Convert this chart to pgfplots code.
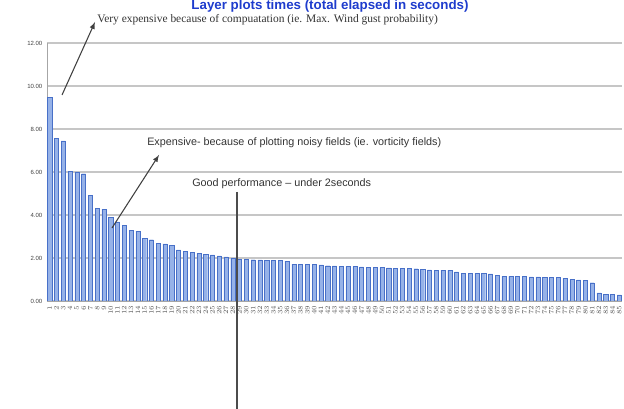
\documentclass[border=0pt]{standalone}
\usepackage{fontspec}
\setmainfont{Liberation Sans}
\newfontfamily\seriffont{Liberation Serif}
\usepackage{pgfplots}
\pgfplotsset{compat=1.18}
\definecolor{barfill}{RGB}{150,178,232}
\definecolor{baredge}{RGB}{72,112,200}
\definecolor{titleblue}{RGB}{30,60,205}
\begin{document}
\begin{tikzpicture}[x=0.75pt,y=0.75pt]
\useasboundingbox (0,0) rectangle (624,409);
\node[anchor=base, inner sep=0pt, font=\bfseries\fontsize{10}{10}\selectfont, text=titleblue] at (330,409-9.5) {Layer plots times (total elapsed in seconds)};
\begin{axis}[
  at={(35.25pt,81pt)}, anchor=south west,
  scale only axis, width=431.25pt, height=193.5pt,
  xmin=0.6, xmax=85.4, ymin=0, ymax=12,
  ybar, bar width=3.1pt,
  axis x line=bottom, axis y line=left,
  axis line style={-, gray!70},
  ymajorgrids, grid style={gray!45, line width=0.8pt},
  ytick={0,2,...,12},
  major tick length=0pt,
  yticklabel style={font=\fontsize{4.5}{5}\selectfont, text=black!75, /pgf/number format/.cd, fixed, fixed zerofill, precision=2, assume math mode=true},
  xtick={1,...,85},
  xticklabel style={rotate=90, anchor=east, font=\fontsize{3.5}{4}\selectfont, text=black!65},
]
\addplot[fill=barfill, draw=baredge, line width=0.3pt] coordinates {
(1,9.46) (2,7.58) (3,7.45) (4,6.02) (5,6.00) (6,5.92) (7,4.90) (8,4.30) (9,4.27) (10,3.90)
(11,3.68) (12,3.52) (13,3.30) (14,3.25) (15,2.92) (16,2.85) (17,2.68) (18,2.66) (19,2.60) (20,2.38)
(21,2.30) (22,2.27) (23,2.22) (24,2.18) (25,2.15) (26,2.10) (27,2.05) (28,1.98) (29,1.95) (30,1.93)
(31,1.92) (32,1.91) (33,1.90) (34,1.89) (35,1.88) (36,1.86) (37,1.72) (38,1.71) (39,1.70) (40,1.69)
(41,1.68) (42,1.64) (43,1.63) (44,1.62) (45,1.61) (46,1.60) (47,1.59) (48,1.58) (49,1.57) (50,1.55)
(51,1.54) (52,1.53) (53,1.52) (54,1.51) (55,1.50) (56,1.48) (57,1.45) (58,1.44) (59,1.43) (60,1.42)
(61,1.35) (62,1.30) (63,1.29) (64,1.28) (65,1.27) (66,1.26) (67,1.20) (68,1.15) (69,1.14) (70,1.13)
(71,1.13) (72,1.12) (73,1.12) (74,1.11) (75,1.10) (76,1.10) (77,1.05) (78,1.00) (79,0.98) (80,0.96)
(81,0.85) (82,0.38) (83,0.30) (84,0.30) (85,0.28)
};
\end{axis}
% annotations
\node[anchor=west, inner sep=0pt, font=\seriffont\fontsize{8.6}{9}\selectfont, text=black!80] at (97,409-20) {Very expensive because of compuatation (ie. Max. Wind gust probability)};
\draw[-latex, line width=0.8pt, black!75] (62,409-95) -- (95,409-22);
\node[anchor=west, inner sep=0pt, font=\fontsize{8.1}{9}\selectfont, text=black!80] at (147,409-143) {Expensive- because of plotting noisy fields (ie. vorticity fields)};
\draw[-latex, line width=0.8pt, black!75] (112,409-228) -- (159,409-155);
\node[anchor=west, inner sep=0pt, font=\fontsize{8.1}{9}\selectfont, text=black!80] at (192,409-184) {Good performance -- under 2seconds};
\draw[line width=0.8pt, black!70] (237,409-192) -- (237,0);
\end{tikzpicture}
\end{document}
